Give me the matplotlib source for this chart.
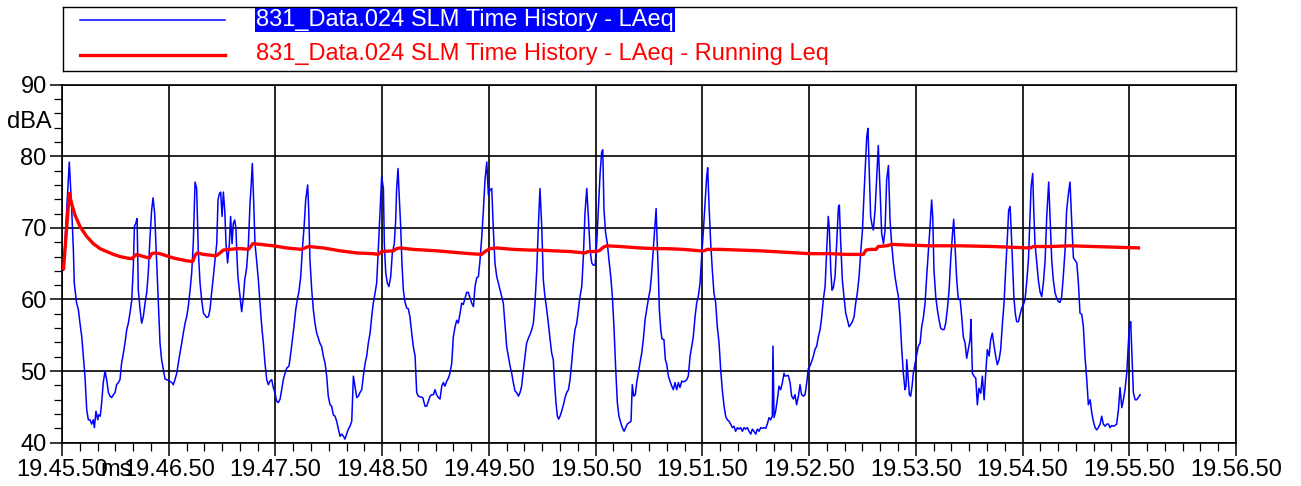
import matplotlib
matplotlib.use("Agg")
import matplotlib.pyplot as plt
from matplotlib.ticker import MultipleLocator, FixedLocator
from matplotlib.transforms import Bbox, TransformedBbox

plt.rcParams['font.family'] = ['Liberation Sans', 'DejaVu Sans']

# seconds after 19.45.50, LAeq in dBA
laeq_t = [
    0.8, 4.1, 5.4, 6.4, 6.9, 8.2, 9.2, 10.1, 11.1, 12.0, 12.9, 13.9, 14.8, 15.7, 16.7, 17.6, 18.2, 19.1,
    20.1, 20.6, 21.5, 22.3, 23.2, 24.2, 25.1, 26.1, 27.0, 27.9, 28.9, 29.8, 30.7, 31.7, 32.6, 33.5, 34.5,
    35.4, 36.4, 37.3, 38.2, 39.2, 40.1, 40.7, 41.4, 42.2, 42.9, 43.9, 44.8, 45.7, 46.7, 47.6, 48.5, 49.5,
    50.4, 51.2, 52.1, 52.8, 53.6, 54.3, 55.1, 56.0, 57.0, 57.9, 59.8, 61.7, 62.6, 63.5, 64.5, 65.4, 66.3,
    67.3, 68.2, 69.2, 70.1, 71.0, 72.0, 72.9, 73.8, 74.8, 75.7, 76.6, 77.6, 78.5, 79.5, 81.3, 82.3, 83.2,
    84.1, 85.1, 86.0, 87.0, 87.7, 88.5, 89.2, 90.0, 90.7, 91.5, 92.2, 93.1, 94.1, 94.8, 95.6, 96.3, 97.1,
    97.8, 98.2, 98.9, 100.1,
    101.0, 102.0, 102.7, 103.8, 104.8, 105.7, 106.4, 107.0, 107.8, 108.5, 109.4, 110.4, 111.3, 112.3,
    113.2, 114.1, 115.1, 116.0, 116.9, 117.9, 118.8, 119.7, 120.7, 121.6, 122.6, 123.5, 124.4, 125.4,
    126.3, 127.6, 128.6, 129.5, 130.4, 131.4, 132.3, 133.2, 134.2, 135.1, 136.1, 137.0, 137.6, 138.1,
    138.7, 139.4, 140.4, 141.3, 142.2, 143.2, 144.1, 145.0, 146.0, 146.9, 147.9, 148.8, 149.7, 150.7,
    151.6, 152.5, 153.5, 154.4, 155.4, 156.3, 157.2, 158.2, 159.1, 160.0, 161.0, 161.9, 162.9, 163.8,
    164.7, 165.7, 166.6, 167.5, 168.5, 169.4, 170.4, 171.3, 172.2, 173.2, 174.1, 175.0, 176.0, 176.9,
    177.8, 178.8, 179.7, 180.7, 181.2, 182.0, 182.9, 183.8, 184.8, 185.7, 186.8, 187.6, 188.1, 188.9,
    189.6, 190.4, 191.1, 191.9, 192.8, 193.8, 194.7, 195.6, 196.6, 197.5, 198.5, 199.4, 200.3, 201.3,
    202.8, 204.1, 205.0, 206.0, 206.9, 207.8, 208.8, 209.7, 210.6, 211.6, 212.5, 213.5, 214.4, 215.3,
    216.3, 217.2, 218.1, 219.1, 220.0, 221.0, 221.9, 222.8, 223.8, 224.7, 225.6, 226.6, 227.5, 228.4,
    229.4, 230.3, 231.3, 232.2, 233.1, 234.1, 235.0, 236.0, 236.9, 237.8, 238.8, 239.7, 240.6, 241.6,
    242.5, 243.4, 244.4, 245.3, 246.3, 247.2, 248.1, 249.1, 250.0, 250.9, 251.9, 252.8, 253.7, 254.7,
    255.6, 256.6, 257.5, 258.4, 259.4, 260.3, 261.2, 262.2, 263.1, 264.1, 265.0, 265.9, 266.9, 267.8,
    268.7, 269.7, 270.6, 271.5, 272.5, 273.4, 274.4, 275.3, 276.2, 276.8, 277.7, 278.5, 279.2, 280.0,
    280.9, 281.9, 282.8, 283.7, 284.7, 285.6, 286.5, 287.5, 288.4, 289.4, 290.3, 291.2, 292.2, 293.1,
    294.0, 295.0, 295.9, 296.9, 297.8, 298.7, 299.7, 300.6, 301.5, 302.5, 303.4, 304.0, 304.7,
    305.6, 306.6, 307.5, 308.5, 309.4, 310.3, 311.3, 312.2, 313.1, 314.1, 315.0, 316.0, 316.9, 317.8,
    318.8, 319.9, 320.6, 321.4, 322.3, 323.1, 324.0, 324.9, 325.9, 326.8, 327.8, 328.7, 329.6, 330.6,
    331.5, 332.4, 333.4, 334.0, 334.5, 335.3, 335.8, 336.6, 337.3, 338.4, 339.2, 340.0, 340.9, 341.8,
    342.8, 343.7, 344.6, 345.6, 346.5, 347.4, 348.4, 349.3, 350.3, 351.2, 352.1, 353.1, 354.0, 354.9,
    355.9, 356.8, 357.7, 358.7, 359.6, 360.6, 361.5, 362.4, 363.0, 363.7, 364.7, 365.6, 366.5, 367.5,
    368.4, 369.4, 370.3, 371.2, 372.2, 373.1, 374.0, 375.0, 375.9, 376.9, 377.8, 378.7, 379.7, 380.6,
    381.5, 382.5, 383.4, 384.4, 385.3, 386.2, 387.2, 388.1, 389.0, 390.0, 390.9, 391.9, 392.8, 393.7,
    394.7, 395.6, 396.5, 397.5, 398.4, 399.3, 399.7, 400.3, 401.2, 402.2, 403.1, 404.0, 405.0, 405.9,
    406.5, 408.3, 409.3, 410.2, 411.2, 412.1, 413.0, 414.0, 414.9, 415.8, 416.8, 417.7, 418.7, 419.6,
    420.5, 421.5, 422.4, 423.3, 424.3, 425.2, 426.2, 427.1, 428.0, 429.0, 429.9, 430.8, 431.4, 432.2,
    432.9, 433.6, 434.6, 435.5, 436.5, 437.0, 437.8, 438.7, 439.6, 440.6, 441.5, 442.5, 443.4, 444.3,
    445.3, 446.2, 447.1, 448.1, 449.0, 450.0, 450.9, 451.8, 452.4, 453.1, 453.9, 454.6, 455.4, 456.1,
    457.1, 458.0, 458.9, 459.9, 460.8, 461.8, 462.7, 463.6, 464.6, 465.5, 466.4, 467.4, 468.3, 469.2,
    470.2, 471.1, 472.1, 473.0, 473.9, 474.5, 474.9, 475.6, 476.4, 477.1, 477.9, 478.6, 479.6, 480.5,
    481.4, 482.4, 483.3, 484.2, 485.2, 486.1, 487.1, 488.0, 488.9, 489.5, 490.2, 491.2, 492.1, 493.0,
    494.0, 494.9, 495.9, 496.8, 497.7, 498.7, 499.6, 500.5, 501.3, 502.0, 503.0, 503.9,
    504.9, 505.8, 506.7, 507.7, 508.6, 509.5, 510.5, 511.0, 511.8, 512.7, 513.7, 514.6, 515.5, 516.5,
    517.4, 518.4, 519.3, 520.2, 521.2, 522.1, 523.0, 524.0, 524.9, 525.8, 526.8, 527.7, 528.7, 529.6,
    530.5, 531.5, 532.2, 533.0, 533.7, 534.5, 535.2, 536.0, 536.7, 537.7, 538.6, 539.5, 540.5, 541.4,
    542.3, 543.3, 544.2, 544.8, 545.7, 546.3, 547.0, 548.0, 548.9, 549.8, 550.8, 551.7, 552.7, 553.6,
    554.7, 555.5, 556.4, 557.3, 558.3, 559.2, 560.1, 561.1, 562.0, 562.9, 563.9, 564.8, 565.8, 566.7,
    567.6, 568.6, 569.5, 570.5, 571.4, 572.3, 573.3, 574.2, 575.1, 576.1, 577.0, 578.0, 578.9, 579.8,
    580.8, 581.7, 582.6, 583.6, 584.5, 585.4, 586.4, 587.3, 588.3, 589.2, 590.1, 591.1, 592.0, 592.9,
    593.9, 594.8, 595.8, 596.7, 597.6, 598.6, 599.5, 600.1, 600.8, 601.6, 602.3, 603.3, 604.2, 605.1,
    606.1,
]
laeq_db = [
    64.1, 79.2, 72.9, 66.9, 62.3, 59.5, 58.6, 56.7, 54.8, 52.1, 49.3, 44.6, 43.2, 43.2, 42.6, 43.2, 42.1, 44.4,
    43.2, 43.9, 43.7, 45.6, 48.4, 50.0, 48.8, 47.0, 46.5, 46.3, 46.7, 47.0, 48.1, 48.4, 48.8, 51.1, 52.5,
    53.9, 55.8, 56.7, 58.1, 59.9, 64.6, 70.2, 70.6, 71.3, 61.3, 58.6, 56.7, 57.6, 59.5, 60.9, 63.7, 68.8,
    72.5, 74.2, 72.0, 67.8, 63.2, 58.6, 53.9, 51.6, 50.2, 48.9, 48.7, 48.4, 48.1, 48.8, 49.7, 51.1, 52.5,
    53.9, 55.3, 56.7, 57.6, 59.0, 61.3, 63.7, 67.8, 76.4, 75.5, 66.9, 62.3, 60.0, 58.1, 57.5, 57.6, 58.6,
    60.9, 63.2, 65.5, 67.8, 73.9, 74.8, 75.0, 71.6, 75.0, 72.5, 67.8, 65.1, 67.8, 71.6, 67.8, 70.6, 71.1,
    69.9, 66.9, 63.2, 60.4,
    58.3, 60.4, 62.7, 64.4, 67.8, 73.4, 76.2, 79.0, 73.4, 67.8, 65.5, 62.7, 59.5, 56.2,
    53.9, 51.1, 48.8, 48.1, 48.6, 48.8, 47.7, 47.0, 45.8, 45.6, 46.1, 47.4, 48.8, 49.7,
    50.4, 50.7, 52.5, 54.4, 56.2, 58.6, 60.0, 61.1, 63.2, 66.9, 70.2, 73.9, 75.0, 76.0,
    72.5, 65.5, 61.3, 58.6, 56.7, 55.3, 54.6, 53.9, 53.4, 52.1, 51.1, 49.3, 46.5, 45.3,
    45.1, 43.9, 43.7, 43.0, 41.9, 40.9, 41.2, 40.9, 40.5, 41.2, 41.9, 42.3, 43.0, 49.3,
    47.9, 46.3, 46.5, 47.0, 47.4, 49.3, 51.1, 52.1, 53.9, 55.3, 57.6, 59.5, 60.9, 62.3,
    66.9, 72.5, 77.2, 75.5, 67.8, 63.7, 62.3, 61.8, 63.2, 66.5, 67.8, 71.1, 75.3, 78.3,
    74.3, 70.2, 65.1, 61.3, 59.7, 58.8, 58.7, 57.6, 55.3, 53.4, 52.1, 47.0, 46.5, 46.4,
    46.3, 45.1, 45.1, 45.8, 46.5, 46.7, 46.7, 47.4, 46.7, 46.3, 46.1, 47.9, 48.4, 47.9,
    48.6, 49.0, 49.7, 51.1, 54.8, 56.2, 57.1, 56.7, 58.1, 59.5, 59.3, 60.2, 61.0, 61.0,
    60.2, 59.5, 59.0, 61.8, 63.0, 63.2, 65.5, 68.8, 72.5, 76.7, 79.2, 74.6, 75.3, 75.5,
    69.7, 65.1, 63.2, 62.3, 61.3, 60.4, 59.5, 56.2, 53.4, 52.1, 50.7, 49.7, 48.4, 47.2,
    47.0, 46.5, 47.0, 47.9, 50.2, 52.1, 53.9, 54.6, 55.1, 55.8, 56.7, 59.5, 64.1, 70.2,
    75.5, 70.2, 62.7, 60.4, 58.6, 56.7, 54.4, 52.5, 51.6, 48.8, 45.6, 43.7, 43.3, 43.7,
    44.4, 45.3, 46.3, 47.0, 47.4, 48.8, 51.1, 53.9, 55.8, 56.7, 58.6, 60.4, 61.8, 66.0,
    72.0, 75.5, 71.6, 66.9, 65.1, 64.8, 64.8, 67.8, 72.5, 77.6, 80.6, 80.9, 72.5,
    69.3, 67.8, 65.5, 63.2, 60.4, 56.2, 50.2, 45.6, 43.7, 42.8, 42.1, 41.6, 42.1, 42.6,
    42.8, 43.0, 48.1, 46.5, 46.7, 48.4, 49.7, 51.1, 52.5, 54.4, 57.2, 58.6, 60.0, 61.3,
    63.7, 66.9, 70.6, 72.7, 68.8, 63.2, 58.6, 55.8, 54.5, 54.4, 51.6, 50.9, 49.3, 48.6,
    47.9, 47.4, 48.4, 47.4, 48.4, 47.7, 48.6, 48.5, 48.6, 48.8, 49.3, 52.1, 53.4, 54.8,
    57.6, 59.5, 60.4, 62.3, 66.0, 69.7, 73.4, 77.1, 78.4, 73.4, 67.8, 64.1, 60.9, 59.5,
    56.2, 53.9, 50.2, 47.4, 45.1, 43.7, 43.2, 43.0, 42.6, 42.1, 42.3, 41.6, 42.1, 41.9,
    42.1, 41.6, 42.1, 41.9, 42.1, 41.6, 41.2, 41.9, 41.6, 41.2, 41.9, 41.6, 42.1, 42.0,
    42.1, 42.0, 42.6, 43.5, 43.2, 43.7, 53.5, 43.5, 44.4, 46.1, 47.9, 47.4, 48.4, 49.7,
    49.3, 49.4, 48.4, 46.5, 46.1, 46.7, 45.3, 46.5, 48.1, 46.7, 46.5, 46.7, 48.4, 50.4,
    50.7, 51.4, 52.1, 53.0, 53.5, 54.8, 55.8, 57.6, 60.0, 61.8, 66.9, 71.6, 69.7, 64.1,
    61.3, 61.6, 63.2, 67.8, 72.9, 73.2, 67.8, 62.7, 60.4, 58.1, 57.2, 56.2, 56.5, 56.9,
    57.6, 59.5, 60.9, 63.2, 66.5, 69.7, 74.8, 79.4, 82.7, 83.9, 77.1, 71.6, 70.4, 69.7,
    72.5, 77.1, 81.5, 75.3, 69.2, 67.8, 69.7, 76.7, 78.7, 71.1, 67.8, 65.1, 63.2, 61.8,
    60.4, 57.6, 53.0, 49.7, 47.4, 47.9, 51.6, 49.3, 46.7, 46.5, 47.9, 49.7, 51.1, 52.3,
    53.5, 53.9, 56.2, 57.4, 59.5, 63.2, 66.9, 70.2, 73.9, 71.6, 64.1, 60.4, 58.6, 57.2,
    56.0, 55.8, 55.8, 56.7, 58.6, 61.3, 65.5, 68.8, 71.2, 67.8, 62.7, 60.0,
    60.0, 57.6, 54.8, 53.9, 51.8, 53.0, 54.4, 57.2, 49.7, 49.3, 49.0, 45.3, 47.6, 46.9,
    49.3, 46.0, 49.7, 53.0, 52.1, 54.4, 55.3, 53.5, 52.1, 50.9, 51.6, 53.0, 56.7, 59.5,
    64.1, 68.8, 72.5, 73.0, 69.2, 64.1, 60.0, 57.9, 56.9, 56.9, 57.9, 58.8, 59.3, 60.0,
    62.3, 65.5, 71.6, 75.7, 77.6, 72.5, 67.8, 65.1, 62.7, 61.1, 60.4, 62.3, 65.5, 71.6,
    76.4, 71.1, 65.5, 62.7, 60.9, 60.2, 59.7, 59.6, 60.4, 63.2, 66.9, 72.5, 74.8, 76.4,
    71.1, 65.8, 65.5, 65.1, 62.3, 58.1, 57.9, 56.2, 52.1, 48.8, 45.3, 46.0, 44.2, 43.0,
    42.1, 41.8, 42.1, 42.6, 43.7, 42.6, 42.3, 42.6, 42.6, 42.1, 42.4, 42.3, 42.4, 42.6,
    44.6, 47.7, 44.9, 46.0, 47.4, 49.7, 53.9, 56.2, 56.9, 51.6, 47.0, 46.0, 46.0, 46.3,
    46.7,
]

# running Leq
run_t = [
    0.8, 4.1, 5.4, 7.3, 10.1, 13.9, 17.6, 21.4, 25.1, 28.9, 32.6, 36.4, 39.2, 40.5, 42.0, 45.7, 49.1,
    50.4, 52.3, 55.1, 58.8, 62.6, 66.3, 70.1, 73.5, 74.8, 76.1, 79.5, 83.2, 86.6, 88.8, 90.7, 94.5,
    98.2, 101.0, 104.8, 106.1, 107.2, 111.3, 118.8, 126.3, 134.7, 137.6, 138.5, 146.9, 156.3, 165.7,
    175.0, 177.8, 179.7, 186.3, 188.1, 190.0, 197.5, 204.1, 210.6, 220.0, 229.4, 235.9, 237.8, 240.6,
    244.4, 253.7, 263.1, 268.7, 276.2, 285.6, 294.0, 295.9, 300.6, 302.5, 304.3, 306.2, 313.7, 324.9,
    333.4, 340.0, 349.3, 358.7, 360.9, 362.8, 369.9, 381.2, 392.4, 406.5, 420.5, 431.8, 441.1, 450.5,
    452.0, 454.3, 457.6, 458.9, 463.6, 466.4, 474.9, 488.0, 504.9, 523.6, 533.0, 544.2, 546.1, 555.5,
    566.7, 579.8, 592.9, 606.1,
]
run_db = [
    64.1, 74.8, 73.4, 71.8, 70.2, 68.8, 67.8, 67.1, 66.7, 66.3, 66.0, 65.8, 65.7, 66.0, 66.3, 66.0, 65.8,
    66.4, 66.5, 66.4, 66.1, 65.8, 65.6, 65.4, 65.3, 66.2, 66.5, 66.3, 66.2, 66.1, 66.5, 66.9, 67.0,
    67.1, 67.1, 67.0, 67.4, 67.8, 67.7, 67.5, 67.2, 67.0, 67.3, 67.4, 67.2, 66.8, 66.5,
    66.4, 66.3, 66.7, 66.8, 67.1, 67.2, 67.0, 66.9, 66.8, 66.6, 66.4, 66.3, 66.7, 67.1,
    67.2, 67.0, 66.9, 66.9, 66.8, 66.7, 66.5, 66.7, 66.7, 66.9, 67.3, 67.5, 67.4, 67.2,
    67.1, 67.1, 67.0, 66.8, 66.8, 67.0, 67.0, 66.9, 66.8, 66.6, 66.4, 66.4, 66.3, 66.3,
    66.9, 67.0, 67.0, 67.4, 67.5, 67.7, 67.6, 67.5, 67.5, 67.4, 67.3, 67.2, 67.4, 67.4,
    67.5, 67.4, 67.3, 67.2,
]

xtick_labels = ['19.45.50', '19.46.50', '19.47.50', '19.48.50', '19.49.50', '19.50.50',
                '19.51.50', '19.52.50', '19.53.50', '19.54.50', '19.55.50', '19.56.50']
name_laeq = '831_Data.024 SLM Time History - LAeq'
name_run = '831_Data.024 SLM Time History - LAeq - Running Leq'

W, H = 1301, 486
FS = 17
fig = plt.figure(figsize=(W / 100, H / 100), dpi=100)
ax = fig.add_axes([62 / W, 1 - 442.7 / H, (1236 - 62) / W, (442.7 - 84.7) / H])

ax.plot(laeq_t, laeq_db, color='#0000ff', lw=1.1, zorder=3)
ax.plot(run_t, run_db, color='#ff0000', lw=2.4, zorder=4, solid_capstyle='butt')

ax.set_xlim(0, 660)
ax.set_ylim(40, 90)
ax.xaxis.set_major_locator(FixedLocator(range(0, 661, 60)))
ax.set_xticklabels(xtick_labels)
ax.xaxis.set_minor_locator(MultipleLocator(10))
ax.yaxis.set_major_locator(MultipleLocator(10))
ax.yaxis.set_minor_locator(MultipleLocator(2))
ax.grid(True, which='major', color='black', lw=1.2, zorder=1)
ax.tick_params(which='major', direction='out', length=9, width=1.1, labelsize=FS, pad=2)
ax.tick_params(which='minor', direction='out', length=6, width=0.9)
ax.tick_params(axis='x', which='major', pad=3)
for s in ax.spines.values():
    s.set_linewidth(1.2)

fig.text(52 / W, 1 - 122 / H, 'dBA', ha='right', va='center', fontsize=FS)
fig.text(116 / W, 1 - 470 / H, 'ms', ha='center', va='center', fontsize=FS)

# legend box
lax = fig.add_axes([63 / W, 1 - 71 / H, (1236 - 63) / W, 64 / H])
lax.set_xlim(0, 1173)
lax.set_ylim(64, 0)
lax.set_xticks([])
lax.set_yticks([])
for s in lax.spines.values():
    s.set_linewidth(1.0)
lax.plot([17, 162], [13, 13], color='#0000ff', lw=1.1)
lax.plot([17, 162], [48, 48], color='#ff0000', lw=2.4)
lax.text(193, 13, name_laeq, color='white', fontsize=FS, va='center', ha='left',
         bbox=dict(facecolor='#0000ff', edgecolor='none', pad=1))
lax.text(193, 47, name_run, color='#ff0000', fontsize=FS, va='center', ha='left')

# the last time label is cut at the right border in the original
fig.canvas.draw()
last = ax.get_xticklabels()[-1]
last.set_clip_box(TransformedBbox(Bbox([[0, 0], [1288 / W, 1]]), fig.transFigure))
last.set_clip_on(True)

fig.savefig('out.png', dpi=100)
